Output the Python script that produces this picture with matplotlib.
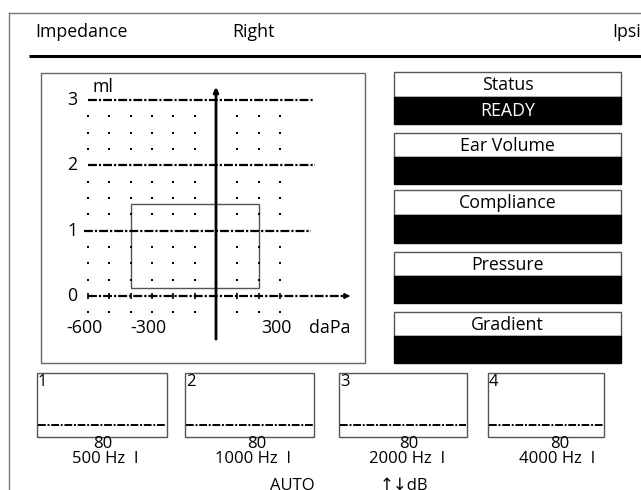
import matplotlib
matplotlib.use("Agg")
import matplotlib.pyplot as plt
from matplotlib.patches import Rectangle

plt.rcParams['font.family'] = ['Open Sans', 'DejaVu Sans']

# ---------------- data ----------------
header_left = "Impedance"
header_mid = "Right"
header_right = "Ipsi"

pressure_ticks = [-600, -300, 300]          # daPa
compliance_ticks = [0, 1, 2, 3]             # ml
dot_pressures = [-600, -500, -400, -300, -200, -100, 0, 100, 200, 300]
dot_compliances = [-0.25, 0.25, 0.5, 0.75, 1.25, 1.5, 1.75, 2.25, 2.5, 2.75]
normal_p = (-400, 200)
normal_c = (0.12, 1.41)
grid_levels = [1, 2, 3]
grid_starts = [-620, -600, -600]
grid_ends = [445, 465, 455]

panel_titles = ["Status", "Ear Volume", "Compliance", "Pressure", "Gradient"]
panel_values = ["READY", "", "", "", ""]

reflex_channels = ["1", "2", "3", "4"]
reflex_levels = ["80", "80", "80", "80"]
reflex_freqs = ["500 Hz  I", "1000 Hz  I", "2000 Hz  I", "4000 Hz  I"]

# ---------------- figure ----------------
W, H = 641, 490
fig = plt.figure(figsize=(W / 100, H / 100), dpi=100)
bg = fig.add_axes([0, 0, 1, 1])
bg.set_xlim(0, W)
bg.set_ylim(H, 0)
bg.axis('off')

DASH = (0, (4, 0.9, 1.0, 0.9))
grey = '#555555'

# outer frame
bg.plot([9, 9], [13, H], color='#777777', lw=1)
bg.plot([9, W], [13, 13], color='#777777', lw=1)

fs = 12.8
bg.text(35, 32, header_left, fontsize=fs, va='center', ha='left')
bg.text(232, 32, header_mid, fontsize=fs, va='center', ha='left')
bg.text(641, 32, header_right, fontsize=fs, va='center', ha='right')
bg.plot([29, W], [56, 56], color='black', lw=2.2, solid_capstyle='butt')

# graph frame
bg.add_patch(Rectangle((41, 73), 324, 290, fill=False, ec='#666666', lw=1))

# ---------------- tympanogram axes ----------------
sx = 192 / 900.0
sy = 65.33
x0p, y0p = 216, 296
xl = (-800, 700)
yl = (-0.8, 3.4)
left = x0p + sx * xl[0]
right = x0p + sx * xl[1]
top = y0p - sy * yl[1]
bot = y0p - sy * yl[0]
ax = fig.add_axes([left / W, (H - bot) / H, (right - left) / W, (bot - top) / H])
ax.set_xlim(*xl)
ax.set_ylim(*yl)
ax.axis('off')

# dotted raster
for c in dot_compliances:
    ax.plot(dot_pressures, [c] * len(dot_pressures), ls='none', marker='s',
            ms=1.9, mew=0, color='black', clip_on=False)
# ticks on zero line
ax.plot(dot_pressures, [0] * len(dot_pressures), ls='none', marker='|',
        ms=5, mew=1.2, color='black', clip_on=False)

# horizontal dash-dot lines
for lvl, s, e in zip(grid_levels, grid_starts, grid_ends):
    ax.plot([s, e], [lvl, lvl], color='black', lw=1.6, ls=DASH, clip_on=False)
ax.plot([-600, 600], [0, 0], color='black', lw=1.6, ls=DASH, clip_on=False)
ax.annotate('', xy=(630, 0), xytext=(590, 0),
            arrowprops=dict(arrowstyle='-|>', color='black', lw=1.2,
                            mutation_scale=8, shrinkA=0, shrinkB=0))
# vertical axis
ax.annotate('', xy=(0, 3.2), xytext=(0, -0.66),
            arrowprops=dict(arrowstyle='-|>', color='black', lw=2,
                            mutation_scale=7, shrinkA=0, shrinkB=0))

# normal region
ax.add_patch(Rectangle((normal_p[0], normal_c[0]), normal_p[1] - normal_p[0],
                       normal_c[1] - normal_c[0], fill=False, ec=grey, lw=1))

# labels
for c in compliance_ticks:
    ax.text(-650, c, str(c), ha='right', va='center', fontsize=fs)
ax.text(-580, 3.2, "ml", ha='left', va='center', fontsize=fs)
for p in pressure_ticks:
    ax.text(p - 15, -0.49, str(p), ha='center', va='center', fontsize=fs)
ax.text(534, -0.49, "daPa", ha='center', va='center', fontsize=fs)

# ---------------- right panels ----------------
panel_rows = [(72, 97, 124), (133, 157, 184), (190, 215, 243), (252, 276, 303), (312, 336, 363)]
px0, px1 = 394, 621
for (t, m, b), title, val in zip(panel_rows, panel_titles, panel_values):
    bg.add_patch(Rectangle((px0, t), px1 - px0, m - t, fc='white', ec=grey, lw=1))
    bg.add_patch(Rectangle((px0, m), px1 - px0, b - m, fc='black', ec='black', lw=1))
    bg.text((px0 + px1) / 2, (t + m) / 2 + 0.5, title, ha='center', va='center', fontsize=fs)
    if val:
        bg.text((px0 + px1) / 2, (m + b) / 2, val, ha='center', va='center',
                fontsize=fs, color='white')

# ---------------- reflex boxes ----------------
box_x = [(37, 167), (185, 314), (339, 467), (488, 604)]
level_x = [103, 257, 409, 560]
freq_x = [105, 253, 407, 557]
bt, bb, bd = 373, 437, 425
fs2 = 12
for (a, b), ch, lv, fq, lx, fx in zip(box_x, reflex_channels, reflex_levels,
                                      reflex_freqs, level_x, freq_x):
    bg.add_patch(Rectangle((a, bt), b - a, bb - bt, fill=False, ec=grey, lw=1))
    bg.plot([a + 1, b - 1], [bd, bd], color='black', lw=1.4, ls=DASH)
    bg.text(a + 1, bt + 9, ch, ha='left', va='center', fontsize=fs2)
    bg.text(lx, 444, lv, ha='center', va='center', fontsize=fs2)
    bg.text(fx, 459, fq, ha='center', va='center', fontsize=fs2)

bg.text(292, 478, "AUTO", ha='center', va='top', fontsize=fs2)
bg.text(380, 478, "↑↓dB", ha='left', va='top', fontsize=fs2)

fig.savefig("out.png", dpi=100)
